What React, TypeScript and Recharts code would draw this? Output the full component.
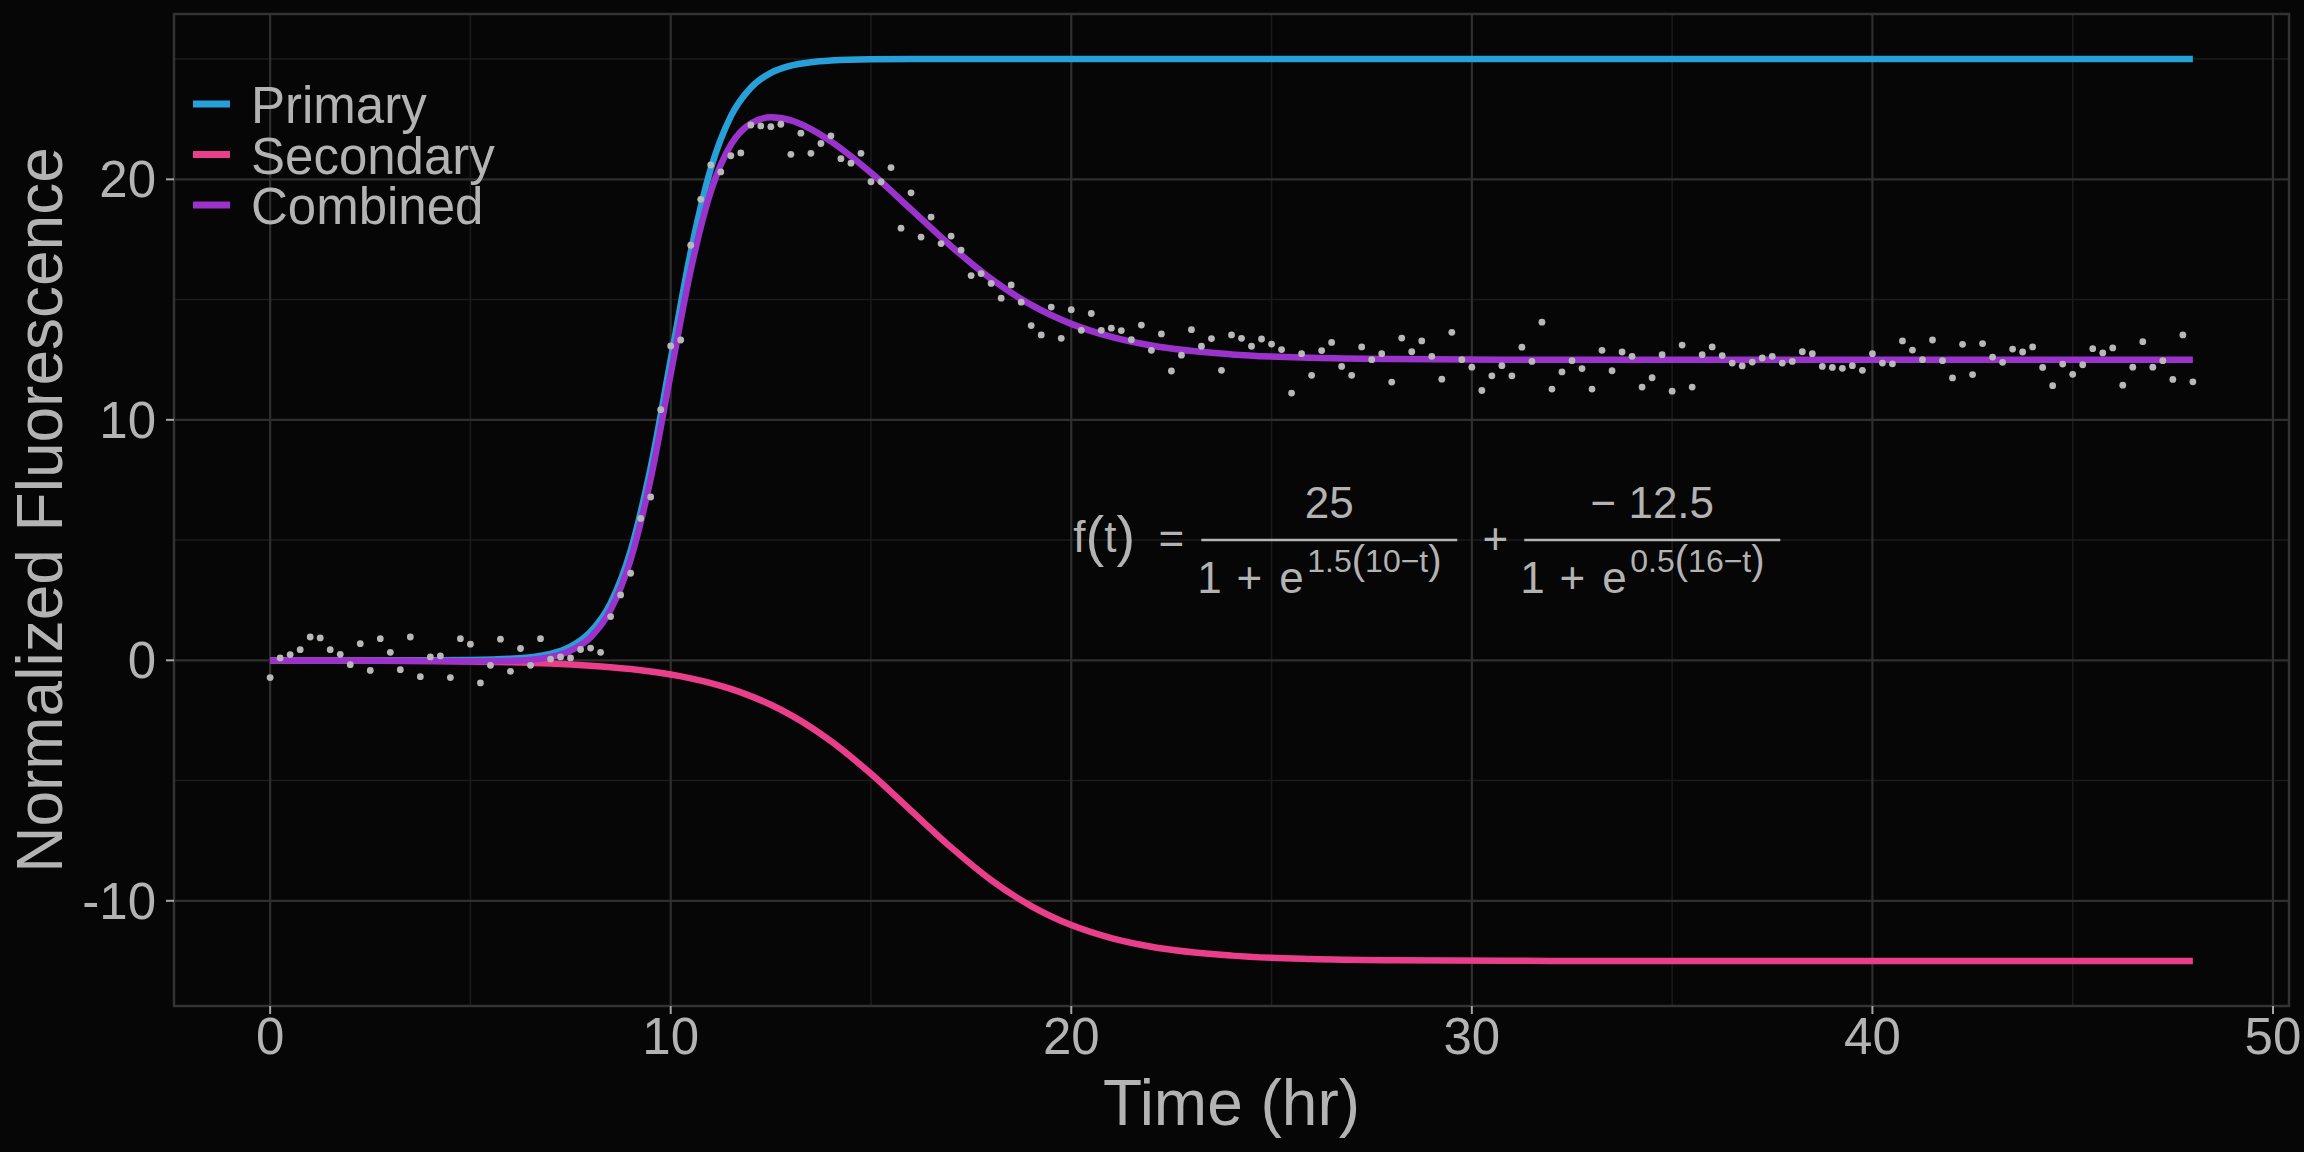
import React from "react";
import {
  ComposedChart,
  Line,
  Scatter,
  XAxis,
  YAxis,
  CartesianGrid,
  ReferenceArea,
  ReferenceDot,
  Legend,
  Label,
} from "recharts";

// fitted curves
const curveTimes = [0, 2, 4, 5, 6, 7, 7.5, 8, 8.5, 9, 9.5, 10, 10.5, 11, 11.5, 12, 12.5, 13, 13.5, 14, 15, 16, 17, 18, 19, 20, 21, 22, 24, 26, 28, 32, 40, 48];
const primaryValues = [0, 0, 0.003, 0.014, 0.062, 0.27, 0.57, 1.19, 2.38, 4.56, 8.02, 12.5, 16.98, 20.44, 22.62, 23.81, 24.43, 24.73, 24.87, 24.94, 24.99, 25, 25, 25, 25, 25, 25, 25, 25, 25, 25, 25, 25, 25];
const secondaryValues = [-0.004, -0.011, -0.031, -0.051, -0.084, -0.137, -0.176, -0.225, -0.287, -0.366, -0.467, -0.593, -0.751, -0.948, -1.19, -1.49, -1.85, -2.28, -2.78, -3.36, -4.72, -6.25, -7.78, -9.14, -10.22, -11.01, -11.55, -11.91, -12.28, -12.42, -12.47, -12.5, -12.5, -12.5];
const combinedValues = [-0.004, -0.011, -0.028, -0.037, -0.022, 0.14, 0.4, 0.96, 2.1, 4.19, 7.55, 11.91, 16.23, 19.49, 21.43, 22.32, 22.58, 22.45, 22.09, 21.58, 20.27, 18.75, 17.22, 15.86, 14.78, 13.99, 13.45, 13.09, 12.72, 12.58, 12.53, 12.5, 12.5, 12.5];

// measurements, one every 15 minutes from t = 0 to 48
const sampleStep = 0.25;
const observed = [
  -0.72, 0.1, 0.24, 0.44, 0.97, 0.93, 0.44, 0.25, -0.18, 0.69, -0.42, 0.9, 0.33, -0.39, 0.97, -0.68,
  0.14, 0.18, -0.72, 0.9, 0.67, -0.94, -0.21, 0.88, -0.46, 0.49, -0.21, 0.9, 0.05, 0.14, 0.1, 0.45,
  0.51, 0.33, 1.82, 2.72, 3.62, 5.9, 6.79, 10.42, 13.07, 13.32, 17.26, 19.17, 20.6, 20.31, 20.98, 21.1,
  22.26, 22.22, 22.19, 22.29, 21.04, 21.92, 21.08, 21.49, 21.81, 20.86, 20.67, 21.08, 19.9, 19.9, 20.49, 17.97,
  19.44, 17.6, 18.43, 17.33, 17.64, 17.06, 16.0, 16.08, 15.67, 15.06, 15.61, 14.89, 13.92, 13.53, 14.69, 13.39,
  14.58, 13.72, 14.42, 13.72, 13.81, 13.71, 13.33, 13.94, 12.89, 13.57, 12.03, 12.69, 13.75, 13.06, 13.38, 12.06,
  13.53, 13.39, 13.06, 13.36, 13.15, 12.92, 11.11, 12.75, 11.85, 12.88, 13.22, 12.22, 11.85, 13.03, 12.5, 12.75,
  11.57, 13.4, 12.83, 13.28, 12.64, 11.69, 13.64, 12.5, 12.19, 11.22, 11.83, 12.25, 11.83, 13.02, 12.43, 14.06,
  11.28, 11.99, 12.46, 12.13, 11.28, 12.89, 12.04, 12.82, 12.64, 11.36, 11.75, 12.71, 11.19, 13.11, 11.36, 12.71,
  13.03, 12.67, 12.36, 12.24, 12.4, 12.57, 12.64, 12.36, 12.43, 12.83, 12.75, 12.22, 12.18, 12.14, 12.25, 12.06,
  12.75, 12.36, 12.33, 13.28, 12.9, 12.5, 13.32, 12.46, 11.74, 13.14, 11.88, 13.17, 12.61, 12.39, 12.94, 12.82,
  13.03, 12.18, 11.42, 12.32, 11.89, 12.29, 12.96, 12.78, 12.99, 11.44, 12.19, 13.25, 12.19, 12.46, 11.68, 13.53,
  11.58,
];

const xTicks = [0, 10, 20, 30, 40, 50];
const xMinor = [5, 15, 25, 35, 45];
const yTicks = [-10, 0, 10, 20];
const yMinor = [-5, 5, 15, 25];
const xDomain = [-2.4, 50.4];
const yDomain = [-14.375, 26.875];

const series = [
  { key: "primary", name: "Primary", color: "#27a0d9" },
  { key: "secondary", name: "Secondary", color: "#e93e8a" },
  { key: "combined", name: "Combined", color: "#9a33cc" },
];

const curveRows = curveTimes.map((t, i) => ({
  t,
  primary: primaryValues[i],
  secondary: secondaryValues[i],
  combined: combinedValues[i],
}));
const pointRows = observed.map((y, i) => ({ t: i * sampleStep, y }));

const FONT = "'Liberation Sans', Arial, Helvetica, sans-serif";
const TEXT = "#b3b3b3";
const BG = "#060606";

function Dot(props: any) {
  return <circle cx={props.cx} cy={props.cy} r={3.4} fill="#b8b8b8" />;
}

// one fraction of the annotation: numerator over 1 + e^(exponent)
function Fraction({ x0, cy, top, rate, mid }: any) {
  const common = { fill: TEXT, fontFamily: FONT };
  return (
    <g>
      <line x1={x0 - 4} x2={x0 + 252} y1={cy} y2={cy} stroke={TEXT} strokeWidth={2.5} />
      <text x={x0 + 124} y={cy - 22} fontSize={44} textAnchor="middle" {...common}>
        {top}
      </text>
      <text x={x0 - 8} y={cy + 53} fontSize={44} {...common}>
        1
      </text>
      <text x={x0 + 44} y={cy + 53} fontSize={44} textAnchor="middle" {...common}>
        +
      </text>
      <text x={x0 + 74} y={cy + 53} fontSize={44} {...common}>
        e
      </text>
      <text x={x0 + 102} y={cy + 32} fontSize={32} {...common}>
        {rate}
        <tspan fontSize={40} dy={2}>(</tspan>
        <tspan fontSize={32} dy={-2}>{mid}</tspan>
        <tspan fontSize={40} dy={2}>)</tspan>
      </text>
    </g>
  );
}

function Equation(props: any) {
  const { cx, cy } = props;
  const common = { fill: TEXT, fontFamily: FONT };
  return (
    <g>
      <text x={cx + 2} y={cy + 12} fontSize={44} {...common}>
        f
        <tspan fontSize={56} dy={3}>(</tspan>
        <tspan fontSize={44} dy={-3}>t</tspan>
        <tspan fontSize={56} dy={3}>)</tspan>
      </text>
      <text x={cx + 100} y={cy + 14} fontSize={44} textAnchor="middle" {...common}>
        =
      </text>
      <Fraction x0={cx + 134} cy={cy} top="25" rate="1.5" mid="10−t" />
      <text x={cx + 424} y={cy + 14} fontSize={44} textAnchor="middle" {...common}>
        +
      </text>
      <Fraction x0={cx + 457} cy={cy} top="− 12.5" rate="0.5" mid="16−t" />
    </g>
  );
}

function LegendBox() {
  return (
    <svg width={420} height={190}>
      {series.map((s, i) => (
        <g key={s.key}>
          <line x1={0} x2={37} y1={44 + i * 50.5} y2={44 + i * 50.5} stroke={s.color} strokeWidth={7} />
          <text x={58} y={63 + i * 50.5} fontSize={51} fill={TEXT} fontFamily={FONT}>
            {s.name}
          </text>
        </g>
      ))}
    </svg>
  );
}

export default function App() {
  return (
    <div style={{ position: "absolute", left: 0, top: 0, width: 2304, height: 1152, background: BG }}>
      <ComposedChart
        width={2304}
        height={1152}
        data={curveRows}
        margin={{ top: 14, right: 15, bottom: 0, left: 0 }}
        style={{ fontFamily: FONT }}
      >
        <CartesianGrid stroke="#1b1b1b" strokeWidth={1.5} verticalValues={xMinor} horizontalValues={yMinor} />
        <CartesianGrid stroke="#2f2f2f" strokeWidth={2.2} verticalValues={xTicks} horizontalValues={yTicks} />
        <XAxis
          dataKey="t"
          type="number"
          domain={xDomain}
          ticks={xTicks}
          allowDataOverflow
          height={146}
          axisLine={false}
          tickSize={8}
          tickMargin={4}
          tickLine={{ stroke: "#a6a6a6", strokeWidth: 2 }}
          tick={{ fill: TEXT, fontSize: 51, fontFamily: FONT }}
        >
          <Label
            content={(p: any) => {
              const vb = p.viewBox;
              return (
                <text x={vb.x + vb.width / 2} y={vb.y + 119} textAnchor="middle" fontSize={64} fill={TEXT} fontFamily={FONT}>
                  Time (hr)
                </text>
              );
            }}
          />
        </XAxis>
        <YAxis
          type="number"
          domain={yDomain}
          ticks={yTicks}
          allowDataOverflow
          width={174}
          axisLine={false}
          tickSize={8}
          tickMargin={10}
          tickLine={{ stroke: "#a6a6a6", strokeWidth: 2 }}
          tick={{ fill: TEXT, fontSize: 51, fontFamily: FONT }}
        >
          <Label
            content={(p: any) => {
              const vb = p.viewBox;
              const cy = vb.y + vb.height / 2;
              return (
                <text
                  x={62}
                  y={cy}
                  transform={`rotate(-90, 62, ${cy})`}
                  textAnchor="middle"
                  fontSize={64}
                  fill={TEXT}
                  fontFamily={FONT}
                >
                  Normalized Fluorescence
                </text>
              );
            }}
          />
        </YAxis>
        <ReferenceArea
          x1={xDomain[0]}
          x2={xDomain[1]}
          y1={yDomain[0]}
          y2={yDomain[1]}
          fill="none"
          fillOpacity={0}
          stroke="#333333"
          strokeWidth={2.5}
        />
        <Scatter data={pointRows} dataKey="y" shape={Dot} isAnimationActive={false} legendType="none" />
        {series.map((s) => (
          <Line
            key={s.key}
            type="monotone"
            dataKey={s.key}
            name={s.name}
            stroke={s.color}
            strokeWidth={6.5}
            dot={false}
            activeDot={false}
            isAnimationActive={false}
          />
        ))}
        <ReferenceDot x={20} y={5} r={0} shape={(p: any) => <Equation cx={p.cx} cy={p.cy} />} />
        <Legend
          layout="vertical"
          align="center"
          verticalAlign="middle"
          content={() => <LegendBox />}
          wrapperStyle={{ left: 193, top: 60, width: 420, height: 190 }}
        />
      </ComposedChart>
    </div>
  );
}
